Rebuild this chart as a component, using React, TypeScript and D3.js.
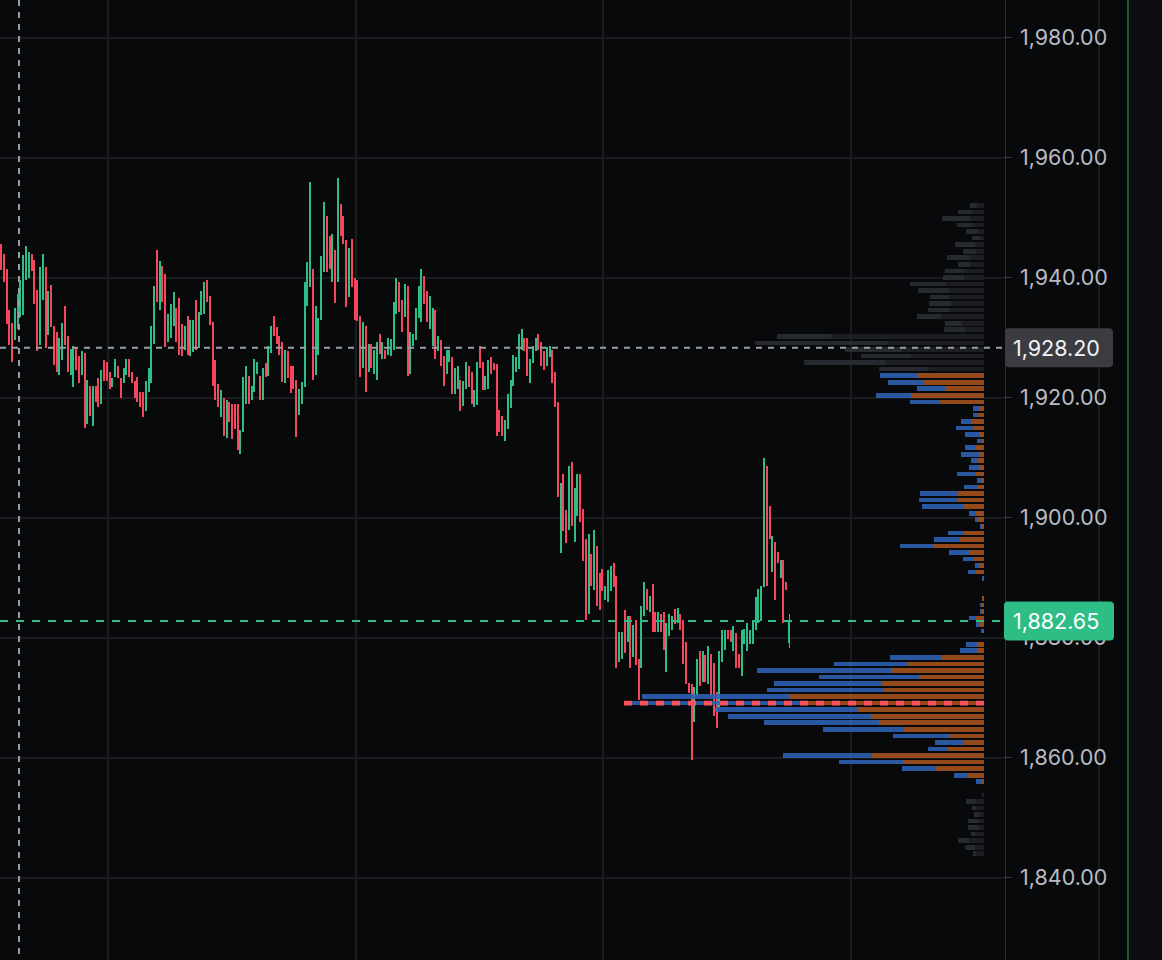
import React from "react";
import * as d3 from "d3";

// ---------- Candle data (OHLC) ----------
const highs = [
  1945.5, 1943.8, 1941.3, 1934.5, 1932.3, 1934.9, 1937.1, 1939.5, 1943.6, 1945.2,
  1944.2, 1943.9, 1942.9, 1937.8, 1941.6, 1943.8, 1941.6, 1937.6, 1938.6, 1931.9,
  1930.9, 1929.9, 1932.4, 1935.2, 1930.2, 1928.0, 1928.5, 1928.4, 1926.9, 1927.6,
  1927.4, 1922.8, 1921.8, 1921.8, 1921.8, 1923.1, 1924.5, 1926.1, 1925.9, 1924.2,
  1923.1, 1926.4, 1925.2, 1923.1, 1924.8, 1926.4, 1926.4, 1924.2, 1922.6, 1923.4,
  1920.9, 1920.9, 1922.6, 1924.8, 1931.8, 1938.5, 1944.5, 1942.6, 1941.8, 1940.5,
  1933.8, 1935.5, 1937.5, 1934.9, 1936.5, 1932.2, 1931.8, 1933.5, 1932.8, 1932.8,
  1936.2, 1934.2, 1937.6, 1939.2, 1939.5, 1936.8, 1932.5, 1926.2, 1922.2, 1921.2,
  1919.8, 1919.5, 1919.1, 1918.8, 1918.8, 1918.8, 1914.5, 1923.4, 1925.2, 1923.5,
  1921.8, 1926.4, 1925.9, 1923.5, 1924.8, 1925.6, 1928.5, 1931.8, 1933.5, 1931.6,
  1930.2, 1929.2, 1927.8, 1927.6, 1925.2, 1925.1, 1922.8, 1921.4, 1922.5, 1939.2,
  1942.5, 1955.8, 1941.4, 1935.2, 1933.1, 1943.5, 1952.5, 1950.2, 1946.8, 1947.2,
  1944.5, 1956.5, 1952.2, 1950.2, 1946.2, 1944.8, 1946.4, 1939.8, 1939.5, 1933.5,
  1932.5, 1931.8, 1928.8, 1928.8, 1927.8, 1929.2, 1930.5, 1929.2, 1927.8, 1929.8,
  1929.6, 1935.9, 1939.8, 1939.2, 1936.2, 1938.8, 1938.5, 1930.9, 1930.5, 1934.9,
  1938.5, 1941.4, 1940.2, 1937.6, 1936.8, 1934.8, 1934.5, 1930.2, 1929.5, 1926.8,
  1927.8, 1927.8, 1926.7, 1924.8, 1925.2, 1922.8, 1922.6, 1925.9, 1925.2, 1924.2,
  1921.2, 1925.8, 1928.5, 1925.9, 1923.5, 1926.2, 1926.6, 1925.6, 1925.5, 1917.9,
  1916.8, 1916.2, 1920.5, 1922.8, 1927.0, 1926.7, 1930.5, 1931.4, 1929.8, 1929.8,
  1926.4, 1928.5, 1929.8, 1930.5, 1929.1, 1927.6, 1928.4, 1928.5, 1927.8, 1924.2,
  1919.2, 1905.6, 1907.2, 1901.2, 1908.5, 1909.2, 1904.8, 1907.2, 1907.2, 1901.4,
  1896.4, 1897.2, 1893.9, 1897.8, 1895.2, 1890.6, 1891.4, 1888.5, 1891.2, 1891.8,
  1892.3, 1890.2, 1880.9, 1880.9, 1884.5, 1883.5, 1883.5, 1882.0, 1882.8, 1876.4,
  1885.2, 1889.2, 1888.0, 1886.8, 1888.8, 1884.2, 1884.1, 1883.9, 1884.1, 1882.3,
  1883.9, 1883.5, 1884.6, 1884.9, 1883.9, 1882.8, 1879.2, 1872.3, 1872.2, 1871.6,
  1876.4, 1877.6, 1877.6, 1877.0, 1878.5, 1877.2, 1875.7, 1870.9, 1877.6, 1881.2,
  1881.2, 1881.2, 1881.2, 1881.8, 1880.7, 1877.2, 1881.2, 1881.4, 1882.3, 1881.2,
  1882.6, 1886.6, 1888.0, 1888.5, 1909.8, 1908.5, 1901.8, 1896.8, 1895.9, 1894.2,
  1892.8, 1892.8, 1889.2, 1883.8,
];

const lows = [
  1941.2, 1939.2, 1932.1, 1928.7, 1925.9, 1929.5, 1931.4, 1933.4, 1933.6, 1939.5,
  1939.9, 1941.0, 1935.5, 1927.6, 1928.6, 1936.2, 1928.2, 1930.3, 1931.6, 1925.4,
  1924.2, 1923.7, 1926.2, 1928.7, 1924.2, 1923.7, 1921.6, 1924.5, 1922.3, 1923.7,
  1914.9, 1915.5, 1916.8, 1915.2, 1919.2, 1918.3, 1918.9, 1922.7, 1922.6, 1921.4,
  1921.6, 1923.3, 1923.1, 1919.9, 1922.3, 1923.7, 1923.3, 1922.3, 1919.9, 1919.2,
  1918.3, 1916.6, 1917.6, 1920.9, 1922.3, 1928.9, 1935.9, 1934.5, 1935.9, 1928.4,
  1929.2, 1929.8, 1931.8, 1929.2, 1927.0, 1926.8, 1927.8, 1927.0, 1926.8, 1927.5,
  1927.8, 1928.1, 1933.7, 1933.9, 1935.9, 1932.0, 1921.8, 1919.5, 1918.3, 1916.6,
  1913.5, 1913.1, 1915.9, 1913.0, 1914.6, 1911.2, 1910.5, 1914.2, 1918.9, 1918.8,
  1919.5, 1920.9, 1923.8, 1919.5, 1919.5, 1923.3, 1923.5, 1927.3, 1930.2, 1928.9,
  1927.0, 1922.5, 1922.3, 1923.1, 1920.6, 1921.4, 1913.4, 1917.0, 1918.9, 1921.6,
  1935.2, 1938.3, 1922.8, 1923.7, 1927.0, 1932.9, 1940.9, 1940.9, 1941.4, 1939.2,
  1935.6, 1939.2, 1946.8, 1945.5, 1935.0, 1936.6, 1938.3, 1932.8, 1932.6, 1923.3,
  1924.9, 1920.9, 1924.2, 1924.9, 1923.8, 1922.9, 1927.2, 1926.4, 1926.3, 1927.0,
  1926.8, 1927.8, 1933.8, 1934.2, 1930.9, 1933.3, 1923.5, 1923.8, 1928.5, 1929.5,
  1933.1, 1932.5, 1935.5, 1932.5, 1931.3, 1928.5, 1926.4, 1927.6, 1925.2, 1921.8,
  1923.8, 1925.9, 1920.5, 1920.5, 1921.4, 1917.6, 1918.5, 1921.4, 1921.7, 1918.8,
  1918.3, 1918.7, 1924.9, 1921.2, 1921.2, 1921.4, 1923.8, 1924.5, 1913.5, 1914.2,
  1913.5, 1912.6, 1914.6, 1918.1, 1921.8, 1924.2, 1924.6, 1927.8, 1927.6, 1923.5,
  1922.3, 1925.6, 1927.6, 1927.8, 1925.1, 1924.5, 1925.2, 1926.7, 1922.3, 1918.3,
  1903.4, 1894.0, 1897.6, 1895.6, 1897.8, 1898.5, 1895.9, 1900.2, 1899.2, 1892.6,
  1882.8, 1883.9, 1888.5, 1887.8, 1885.2, 1884.5, 1887.6, 1886.2, 1885.9, 1887.6,
  1888.4, 1874.9, 1875.9, 1876.3, 1877.3, 1879.2, 1874.9, 1876.7, 1875.3, 1869.5,
  1874.9, 1883.5, 1884.5, 1884.2, 1880.9, 1880.9, 1880.9, 1880.9, 1877.9, 1874.2,
  1880.2, 1881.2, 1882.2, 1882.4, 1881.2, 1875.5, 1872.2, 1870.6, 1859.5, 1865.9,
  1870.2, 1871.8, 1872.5, 1872.5, 1872.2, 1870.2, 1866.8, 1864.9, 1868.1, 1875.9,
  1877.8, 1879.6, 1879.1, 1877.6, 1874.9, 1874.9, 1873.5, 1878.9, 1877.6, 1878.9,
  1878.9, 1881.2, 1882.4, 1882.6, 1888.4, 1888.5, 1896.4, 1890.9, 1886.2, 1892.3,
  1889.9, 1882.3, 1887.8, 1878.1,
];

const opens = [
  1945.5, 1943.8, 1941.3, 1934.5, 1932.3, 1929.5, 1931.4, 1933.4, 1933.6, 1939.5,
  1939.9, 1943.9, 1942.9, 1937.8, 1928.6, 1936.2, 1941.6, 1930.3, 1938.6, 1931.9,
  1930.9, 1923.7, 1926.2, 1935.2, 1930.2, 1923.7, 1921.6, 1928.4, 1926.9, 1923.7,
  1927.4, 1915.5, 1921.8, 1915.2, 1921.8, 1923.1, 1918.9, 1926.1, 1925.9, 1924.2,
  1921.6, 1923.3, 1925.2, 1923.1, 1922.3, 1923.7, 1926.4, 1924.2, 1922.6, 1923.4,
  1920.9, 1920.9, 1917.6, 1920.9, 1922.3, 1928.9, 1944.5, 1934.5, 1941.8, 1940.5,
  1929.2, 1929.8, 1931.8, 1934.9, 1936.5, 1932.2, 1927.8, 1933.5, 1926.8, 1927.5,
  1936.2, 1928.1, 1933.7, 1933.9, 1939.5, 1936.8, 1932.5, 1926.2, 1922.2, 1916.6,
  1919.8, 1913.1, 1919.1, 1918.8, 1918.8, 1918.8, 1910.5, 1914.2, 1918.9, 1923.5,
  1919.5, 1920.9, 1923.8, 1923.5, 1919.5, 1925.6, 1923.5, 1927.3, 1933.5, 1931.6,
  1930.2, 1929.2, 1922.3, 1927.6, 1925.2, 1925.1, 1922.8, 1917.0, 1918.9, 1921.6,
  1935.2, 1938.3, 1941.4, 1923.7, 1927.0, 1932.9, 1940.9, 1950.2, 1946.8, 1939.2,
  1944.5, 1939.2, 1952.2, 1950.2, 1946.2, 1936.6, 1946.4, 1939.8, 1939.5, 1933.5,
  1924.9, 1931.8, 1924.2, 1928.8, 1923.8, 1922.9, 1930.5, 1926.4, 1927.8, 1927.0,
  1926.8, 1927.8, 1933.8, 1939.2, 1936.2, 1933.3, 1938.5, 1923.8, 1928.5, 1929.5,
  1933.1, 1932.5, 1940.2, 1937.6, 1931.3, 1928.5, 1934.5, 1927.6, 1929.5, 1926.8,
  1923.8, 1925.9, 1926.7, 1920.5, 1921.4, 1922.8, 1918.5, 1921.4, 1925.2, 1924.2,
  1918.3, 1918.7, 1928.5, 1925.9, 1921.2, 1921.4, 1926.6, 1925.6, 1925.5, 1917.9,
  1916.8, 1912.6, 1914.6, 1918.1, 1921.8, 1924.2, 1924.6, 1927.8, 1929.8, 1929.8,
  1922.3, 1925.6, 1927.6, 1930.5, 1929.1, 1927.6, 1925.2, 1926.7, 1927.8, 1924.2,
  1919.2, 1894.0, 1907.2, 1901.2, 1897.8, 1909.2, 1895.9, 1900.2, 1907.2, 1901.4,
  1896.4, 1883.9, 1893.9, 1887.8, 1895.2, 1890.6, 1891.4, 1886.2, 1885.9, 1887.6,
  1892.3, 1890.2, 1875.9, 1876.3, 1884.5, 1879.2, 1883.5, 1876.7, 1882.8, 1876.4,
  1874.9, 1883.5, 1888.0, 1884.2, 1888.8, 1884.2, 1880.9, 1883.9, 1884.1, 1874.2,
  1880.2, 1881.2, 1884.6, 1882.4, 1883.9, 1882.8, 1879.2, 1872.3, 1872.2, 1865.9,
  1870.2, 1877.6, 1872.5, 1877.0, 1872.2, 1877.2, 1875.7, 1870.9, 1868.1, 1875.9,
  1877.8, 1881.2, 1881.2, 1877.6, 1880.7, 1877.2, 1873.5, 1878.9, 1877.6, 1878.9,
  1878.9, 1881.2, 1882.4, 1882.6, 1888.4, 1908.5, 1901.8, 1890.9, 1895.9, 1894.2,
  1889.9, 1892.8, 1889.2, 1879.0,
];

const closes = [
  1941.2, 1939.2, 1932.1, 1928.7, 1925.9, 1934.9, 1937.1, 1939.5, 1943.6, 1945.2,
  1944.2, 1941.0, 1935.5, 1927.6, 1941.6, 1943.8, 1928.2, 1937.6, 1931.6, 1925.4,
  1924.2, 1929.9, 1932.4, 1928.7, 1924.2, 1928.0, 1928.5, 1924.5, 1922.3, 1927.6,
  1914.9, 1922.8, 1916.8, 1921.8, 1919.2, 1918.3, 1924.5, 1922.7, 1922.6, 1921.4,
  1923.1, 1926.4, 1923.1, 1919.9, 1924.8, 1926.4, 1923.3, 1922.3, 1919.9, 1919.2,
  1918.3, 1916.6, 1922.6, 1924.8, 1931.8, 1938.5, 1935.9, 1942.6, 1935.9, 1928.4,
  1933.8, 1935.5, 1937.5, 1929.2, 1927.0, 1926.8, 1931.8, 1927.0, 1932.8, 1932.8,
  1927.8, 1934.2, 1937.6, 1939.2, 1935.9, 1932.0, 1921.8, 1919.5, 1918.3, 1921.2,
  1913.5, 1919.5, 1915.9, 1913.0, 1914.6, 1911.2, 1914.5, 1923.4, 1925.2, 1918.8,
  1921.8, 1926.4, 1925.9, 1919.5, 1924.8, 1923.3, 1928.5, 1931.8, 1930.2, 1928.9,
  1927.0, 1922.5, 1927.8, 1923.1, 1920.6, 1921.4, 1913.4, 1921.4, 1922.5, 1939.2,
  1942.5, 1955.8, 1922.8, 1935.2, 1933.1, 1943.5, 1952.5, 1940.9, 1941.4, 1947.2,
  1935.6, 1956.5, 1946.8, 1945.5, 1935.0, 1944.8, 1938.3, 1932.8, 1932.6, 1923.3,
  1932.5, 1920.9, 1928.8, 1924.9, 1927.8, 1929.2, 1927.2, 1929.2, 1926.3, 1929.8,
  1929.6, 1935.9, 1939.8, 1934.2, 1930.9, 1938.8, 1923.5, 1930.9, 1930.5, 1934.9,
  1938.5, 1941.4, 1935.5, 1932.5, 1936.8, 1934.8, 1926.4, 1930.2, 1925.2, 1921.8,
  1927.8, 1927.8, 1920.5, 1924.8, 1925.2, 1917.6, 1922.6, 1925.9, 1921.7, 1918.8,
  1921.2, 1925.8, 1924.9, 1921.2, 1923.5, 1926.2, 1923.8, 1924.5, 1913.5, 1914.2,
  1913.5, 1916.2, 1920.5, 1922.8, 1927.0, 1926.7, 1930.5, 1931.4, 1927.6, 1923.5,
  1926.4, 1928.5, 1929.8, 1927.8, 1925.1, 1924.5, 1928.4, 1928.5, 1922.3, 1918.3,
  1903.4, 1905.6, 1897.6, 1895.6, 1908.5, 1898.5, 1904.8, 1907.2, 1899.2, 1892.6,
  1882.8, 1897.2, 1888.5, 1897.8, 1885.2, 1884.5, 1887.6, 1888.5, 1891.2, 1891.8,
  1888.4, 1874.9, 1880.9, 1880.9, 1877.3, 1883.5, 1874.9, 1882.0, 1875.3, 1869.5,
  1885.2, 1889.2, 1884.5, 1886.8, 1880.9, 1880.9, 1884.1, 1880.9, 1877.9, 1882.3,
  1883.9, 1883.5, 1882.2, 1884.9, 1881.2, 1875.5, 1872.2, 1870.6, 1859.5, 1871.6,
  1876.4, 1871.8, 1877.6, 1872.5, 1878.5, 1870.2, 1866.8, 1864.9, 1877.6, 1881.2,
  1881.2, 1879.6, 1879.1, 1881.8, 1874.9, 1874.9, 1881.2, 1881.4, 1882.3, 1881.2,
  1882.6, 1886.6, 1888.0, 1888.5, 1909.8, 1888.5, 1896.4, 1896.8, 1886.2, 1892.3,
  1892.8, 1882.3, 1887.8, 1882.65,
];

// ---------- Axis / markers ----------
const priceTicks = [1840, 1860, 1880, 1900, 1920, 1940, 1960, 1980];
const timeTicks = [38, 127, 216, 305, 394]; // candle-index positions of time grid
const lastPrice = 1882.65;
const crosshairPrice = 1928.2;
const crosshairIndex = 6.46;

// ---------- Volume profile (100 rows, top -> bottom) ----------
const PROFILE_HIGH = 1952.33;
const PROFILE_ROW = 1.0917;
const valueAreaHigh = 1923.95;
const valueAreaLow = 1855.17;
const pocPrice = 1868.8;

const profileBuy = [
  7, 14, 28, 15, 12, 8, 20, 13, 23, 12,
  19, 21, 36, 31, 19, 22, 21, 24, 17, 21,
  54, 132, 57, 50, 81, 50, 38, 36, 28, 35,
  30, 6, 5, 10, 18, 14, 5, 10, 18, 7,
  10, 19, 4, 14, 38, 39, 42, 7, 3, 1,
  16, 26, 34, 20, 11, 4, 8, 1, 0, 0,
  0, 2, 2, 7, 4, 2, 0, 11, 17, 52,
  73, 134, 100, 108, 117, 148, 176, 143, 143, 115,
  81, 57, 29, 20, 89, 64, 34, 14, 6, 0,
  1, 10, 4, 6, 11, 11, 4, 11, 10, 3,
];

const profileSell = [
  7, 12, 14, 12, 6, 4, 9, 8, 14, 14,
  20, 20, 38, 35, 35, 33, 35, 43, 22, 19,
  153, 97, 82, 73, 99, 55, 66, 60, 39, 73,
  44, 5, 6, 13, 10, 5, 2, 9, 5, 6,
  5, 8, 3, 6, 26, 26, 20, 8, 6, 3,
  20, 24, 50, 15, 10, 5, 8, 1, 0, 0,
  2, 2, 2, 8, 4, 1, 0, 7, 7, 42,
  77, 93, 65, 102, 100, 194, 184, 126, 113, 105,
  80, 34, 20, 36, 112, 81, 48, 16, 2, 0,
  1, 8, 8, 4, 5, 5, 9, 15, 9, 8,
];

// ---------- Style ----------
const W = 1162;
const H = 960;
const BG = "#08090b";
const UP = "#2ebd85";
const DOWN = "#f6465d";
const GRID = "#1a1c20";
const AXIS_X = 1005;
const PROFILE_RIGHT = 984;
const FONT = "Inter, 'Noto Sans', Roboto, sans-serif";

export default function App() {
  const n = highs.length;
  const y = d3.scaleLinear().domain([1826.1667, 1986.1667]).range([H, 0]);
  const x = d3.scaleLinear().domain([0, n - 1]).range([1, 789]);

  const rows = profileBuy.map((b, i) => {
    const top = PROFILE_HIGH - i * PROFILE_ROW;
    const bottom = top - PROFILE_ROW;
    return { i, top, bottom, mid: (top + bottom) / 2, buy: b, sell: profileSell[i] };
  });
  const maxTotal = d3.max(rows, (r) => r.buy + r.sell) as number;
  const w = d3.scaleLinear().domain([0, maxTotal]).range([0, 360]);
  const pocRow = rows.reduce((a, r) => (Math.abs(r.mid - pocPrice) < Math.abs(a.mid - pocPrice) ? r : a));
  const fmt = d3.format(",.2f");

  return (
    <svg
      width={W}
      height={H}
      style={{ position: "absolute", left: 0, top: 0, display: "block" }}
      fontFamily={FONT}
    >
      <rect x={0} y={0} width={W} height={H} fill={BG} />
      <rect x={1129} y={0} width={W - 1129} height={H} fill="#0c0d10" />

      {/* grid */}
      <g shapeRendering="crispEdges">
        {priceTicks.map((p) => (
          <line key={p} x1={0} x2={AXIS_X} y1={Math.round(y(p)) + 0.5} y2={Math.round(y(p)) + 0.5} stroke={GRID} strokeWidth={2} />
        ))}
        {timeTicks.map((t) => (
          <line key={t} x1={Math.round(x(t)) + 0.5} x2={Math.round(x(t)) + 0.5} y1={0} y2={H} stroke={GRID} strokeWidth={2} />
        ))}
      </g>

      {/* candles */}
      <g shapeRendering="crispEdges">
        {highs.map((h, i) => {
          const o = opens[i];
          const c = closes[i];
          const col = c >= o ? UP : DOWN;
          const cx = x(i);
          const bt = y(Math.max(o, c));
          const bb = y(Math.min(o, c));
          return (
            <g key={i}>
              <rect x={cx - 0.5} y={y(h)} width={1} height={Math.max(1, y(lows[i]) - y(h))} fill={col} />
              <rect x={cx - 1} y={bt} width={2} height={Math.max(1, bb - bt)} fill={col} />
            </g>
          );
        })}
      </g>

      {/* volume profile */}
      <g shapeRendering="crispEdges" opacity={0.88}>
        {rows.map((r) => {
          const total = r.buy + r.sell;
          if (total <= 0) return null;
          const inVA = r.mid <= valueAreaHigh && r.mid >= valueAreaLow;
          const y0 = y(r.top);
          const hgt = y(r.bottom) - y0 - 1.9;
          const sellW = w(r.sell);
          const buyW = w(r.buy);
          return (
            <g key={r.i}>
              <rect x={PROFILE_RIGHT - sellW - buyW} y={y0} width={buyW} height={hgt} fill={inVA ? "#2e62b5" : "#2b2e34"} />
              <rect x={PROFILE_RIGHT - sellW} y={y0} width={sellW} height={hgt} fill={inVA ? "#a8531d" : "#1f2126"} />
            </g>
          );
        })}
      </g>

      {/* POC line */}
      <line
        x1={PROFILE_RIGHT - w(pocRow.buy + pocRow.sell)}
        x2={PROFILE_RIGHT}
        y1={(y(pocRow.top) + y(pocRow.bottom) - 1.9) / 2}
        y2={(y(pocRow.top) + y(pocRow.bottom) - 1.9) / 2}
        stroke="#f8525e"
        strokeWidth={4.6}
        strokeDasharray="8 8"
      />

      {/* last price line */}
      <line x1={0} x2={AXIS_X} y1={y(lastPrice)} y2={y(lastPrice)} stroke={UP} strokeWidth={2} strokeDasharray="8 8" />

      {/* crosshair */}
      <line x1={0} x2={AXIS_X} y1={y(crosshairPrice)} y2={y(crosshairPrice)} stroke="#9a9ea7" strokeWidth={2} strokeDasharray="6 6" />
      <line x1={x(crosshairIndex)} x2={x(crosshairIndex)} y1={0} y2={H} stroke="#9a9ea7" strokeWidth={2} strokeDasharray="6 6" />

      {/* price axis */}
      <line x1={AXIS_X + 0.5} x2={AXIS_X + 0.5} y1={0} y2={H} stroke="#2c2f35" strokeWidth={1} shapeRendering="crispEdges" />
      {priceTicks.map((p) => (
        <g key={p}>
          <line x1={AXIS_X} x2={1012} y1={Math.round(y(p)) + 0.5} y2={Math.round(y(p)) + 0.5} stroke="#3a3d44" strokeWidth={1} shapeRendering="crispEdges" />
          <text x={1020} y={y(p)} dy="0.36em" fontSize={21.5} fill="#b8bbc2">
            {fmt(p)}
          </text>
        </g>
      ))}

      {/* crosshair price label */}
      <rect x={1005} y={y(crosshairPrice) - 19.5} width={108} height={39} rx={4} fill="#3a3c42" />
      <text x={1013} y={y(crosshairPrice)} dy="0.36em" fontSize={21.5} fill="#f2f3f5">
        {fmt(crosshairPrice)}
      </text>

      {/* last price label */}
      <rect x={1004} y={y(lastPrice) - 19.5} width={110} height={39} rx={4} fill={UP} />
      <text x={1013} y={y(lastPrice)} dy="0.36em" fontSize={21.5} fill="#ffffff">
        {fmt(lastPrice)}
      </text>

      {/* right green separator */}
      <line x1={1128} x2={1128} y1={0} y2={H} stroke="#1d5a2a" strokeWidth={2} />
    </svg>
  );
}
